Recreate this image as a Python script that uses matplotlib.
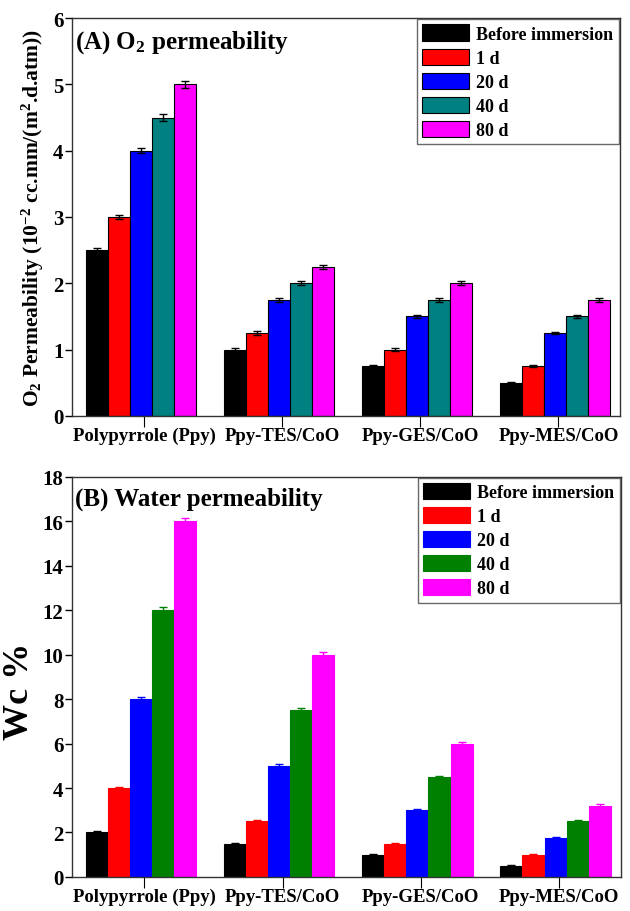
import numpy as np
import matplotlib
matplotlib.use("Agg")
import matplotlib.pyplot as plt

plt.rcParams['font.family'] = ['Liberation Serif', 'DejaVu Serif']
plt.rcParams['font.weight'] = 'bold'
plt.rcParams['axes.labelweight'] = 'bold'
plt.rcParams['mathtext.fontset'] = 'custom'
plt.rcParams['mathtext.rm'] = 'Liberation Serif:bold'
plt.rcParams['mathtext.it'] = 'Liberation Serif:bold'
plt.rcParams['mathtext.bf'] = 'Liberation Serif:bold'
plt.rcParams['mathtext.default'] = 'rm'

# data
samples = ['Polypyrrole (Ppy)', 'Ppy-TES/CoO', 'Ppy-GES/CoO', 'Ppy-MES/CoO']
periods = ['Before immersion', '1 d', '20 d', '40 d', '80 d']

o2_vals = [[2.5, 1.0, 0.75, 0.5],
           [3.0, 1.25, 1.0, 0.75],
           [4.0, 1.75, 1.5, 1.25],
           [4.5, 2.0, 1.75, 1.5],
           [5.0, 2.25, 2.0, 1.75]]
o2_err = [[0.03, 0.02, 0.02, 0.01],
          [0.03, 0.03, 0.02, 0.02],
          [0.04, 0.03, 0.02, 0.02],
          [0.05, 0.03, 0.03, 0.02],
          [0.05, 0.03, 0.03, 0.03]]

wc_vals = [[2.0, 1.5, 1.0, 0.5],
           [4.0, 2.5, 1.5, 1.0],
           [8.0, 5.0, 3.0, 1.75],
           [12.0, 7.5, 4.5, 2.5],
           [16.0, 10.0, 6.0, 3.2]]
wc_err = [[0.05, 0.03, 0.03, 0.02],
          [0.06, 0.05, 0.04, 0.03],
          [0.08, 0.06, 0.05, 0.04],
          [0.12, 0.08, 0.06, 0.05],
          [0.15, 0.1, 0.08, 0.06]]

colors_a = ['#000000', '#ff0000', '#0000ff', '#008080', '#ff00ff']
colors_b = ['#000000', '#ff0000', '#0000ff', '#008000', '#ff00ff']

fig = plt.figure(figsize=(6.3, 9.12), dpi=100)
ax1 = fig.add_axes([0.114, 0.543, 0.870, 0.436])
ax2 = fig.add_axes([0.114, 0.0373, 0.871, 0.439])

x = np.arange(1, len(samples) + 1)
w = 0.16


def draw(ax, vals, errs, colors, edge_black, ecol_same):
    for i in range(len(periods)):
        pos = x - 0.05 + (i - 2) * w
        ec = 'black' if edge_black else colors[i]
        errc = colors[i] if ecol_same else 'black'
        ax.bar(pos, vals[i], w, color=colors[i], edgecolor=ec, linewidth=0.8,
               label=periods[i],
               yerr=errs[i], error_kw=dict(ecolor=errc, capsize=3, elinewidth=1, capthick=1))
    ax.set_xticks(x - 0.025)
    ax.set_xticklabels(samples, fontsize=13.5)
    ax.set_xlim(0.45, 4.42)
    ax.tick_params(axis='x', direction='out', length=8, width=0.8, pad=0)
    ax.tick_params(axis='y', direction='out', length=5, width=1, labelsize=15, pad=1)
    for s in ax.spines.values():
        s.set_color('#333333')
        s.set_linewidth(1)
    leg = ax.legend(loc='upper right', fontsize=13, frameon=True, fancybox=False,
                    borderaxespad=0.05, handlelength=2.6, handleheight=1.0,
                    labelspacing=0.32, handletextpad=0.4, borderpad=0.3)
    leg.get_frame().set_edgecolor('#444444')
    leg.get_frame().set_linewidth(1)


draw(ax1, o2_vals, o2_err, colors_a, True, False)
ax1.set_ylim(0, 6)
ax1.set_yticks(np.arange(0, 7, 1))
ax1.set_ylabel(r'O$_2$ Permeability (10$^{-2}$ cc.mm/(m$^2$.d.atm))', fontsize=15.5)
ax1.yaxis.set_label_coords(-0.047, 0.5)
ax1.text(0.005, 0.975, r'(A) O$_2$ permeability', transform=ax1.transAxes,
         fontsize=18, va='top', ha='left')

draw(ax2, wc_vals, wc_err, colors_b, False, True)
ax2.set_ylim(0, 18)
ax2.set_yticks(np.arange(0, 19, 2))
ax2.set_ylabel('Wc %', fontsize=26)
ax2.yaxis.set_label_coords(-0.066, 0.465)
ax2.text(0.005, 0.975, '(B) Water permeability', transform=ax2.transAxes,
         fontsize=18, va='top', ha='left')

fig.savefig('out.png', dpi=100)
